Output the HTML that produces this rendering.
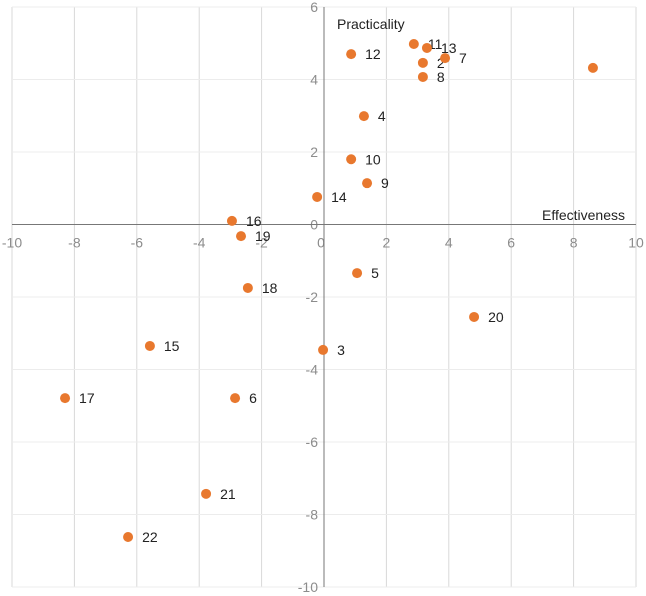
<!DOCTYPE html>
<html><head><meta charset="utf-8"><style>
html,body{margin:0;padding:0;background:#fff;}
svg{display:block;font-family:"Liberation Sans",sans-serif;}
</style></head><body>
<svg id="chart" width="646" height="596"></svg>
<script>
const xVals=[8.62,3.17,-0.03,1.28,1.06,-2.85,3.88,3.17,1.38,0.87,2.88,0.87,3.30,-0.22,-5.58,-2.95,-8.30,-2.44,-2.66,4.81,-3.78,-6.28];
const yVals=[4.32,4.46,-3.46,2.99,-1.34,-4.79,4.59,4.07,1.14,1.80,4.98,4.70,4.87,0.76,-3.35,0.10,-4.79,-1.75,-0.32,-2.55,-7.43,-8.62];
const pointLabels=["","2","3","4","5","6","7","8","9","10","11","12","13","14","15","16","17","18","19","20","21","22"];
const xTicks=[-10,-8,-6,-4,-2,0,2,4,6,8,10];
const yTicks=[6,4,2,0,-2,-4,-6,-8,-10];
const NS="http://www.w3.org/2000/svg";
const svg=document.getElementById('chart');
const X=v=>324+v*31.2;
const Y=v=>224.5-v*36.25;
function mk(t,a){const e=document.createElementNS(NS,t);for(const k in a)e.setAttribute(k,a[k]);svg.appendChild(e);return e;}
xTicks.forEach(t=>{
  if(t!==0){const l=mk('line',{x1:X(t),x2:X(t),y1:Y(6),y2:Y(-10),stroke:'#d9d9d9','stroke-width':1});
  
  }
  const tx=mk('text',{x:X(t)+(t===0?-3:0),y:Y(0)+23,'text-anchor':'middle','font-size':14,fill:'#8c8c8c'});
  tx.textContent=t;
  
  
});
yTicks.forEach(t=>{
  if(t!==0){const l=mk('line',{x1:X(-10),x2:X(10),y1:Y(t),y2:Y(t),stroke:'#ececec','stroke-width':1});
  
  }
  if(t!==0){const tx=mk('text',{x:X(0)-6,y:Y(t)+5,'text-anchor':'end','font-size':14,fill:'#8c8c8c'});
  tx.textContent=t;
  
  }
});
const y0=mk('text',{x:X(0)-6,y:Y(0)+5,'text-anchor':'end','font-size':14,fill:'#8c8c8c'});y0.textContent='0';


const xa=mk('line',{x1:X(-10),x2:X(10),y1:Y(0),y2:Y(0),stroke:'#777','stroke-width':1});


const ya=mk('line',{x1:X(0),x2:X(0),y1:Y(6),y2:Y(-10),stroke:'#777','stroke-width':1});


const xt=mk('text',{x:625,y:220,'text-anchor':'end','font-size':14,fill:'#222'});xt.textContent='Effectiveness';


const yt=mk('text',{x:337,y:29,'font-size':14,fill:'#222'});yt.textContent='Practicality';


xVals.forEach((v,i)=>{
  const c=mk('circle',{cx:X(v),cy:Y(yVals[i]),r:5,fill:'#e8782e'});
  
  
  if(pointLabels[i]){const t=mk('text',{x:X(v)+14,y:Y(yVals[i])+5,'font-size':14,fill:'#222'});
  t.textContent=pointLabels[i];
  
  }
});
</script>
</body></html>
